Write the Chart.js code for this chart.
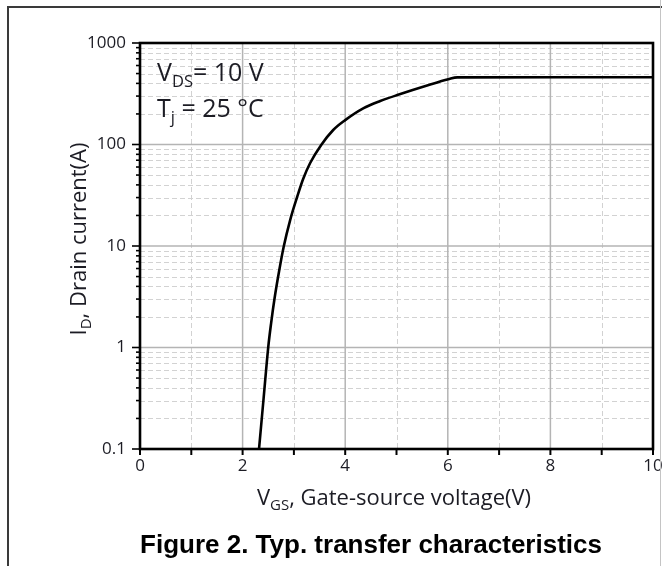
<!DOCTYPE html>
<html>
<head>
<meta charset="utf-8">
<title>Typ. transfer characteristics</title>
<script src="https://cdn.jsdelivr.net/npm/chart.js@4.4.0/dist/chart.umd.min.js"></script>
<style>
  html, body { margin: 0; padding: 0; background: #fff; }
  #wrap { position: relative; width: 662px; height: 566px; overflow: hidden; }
  #chart { position: absolute; left: 0; top: 0; }
  .rule { position: absolute; }
  #ruleTop { left: 7px; top: 6px; width: 655px; height: 2px; background: #3a3a3a; }
  #ruleLeft { left: 7px; top: 6px; width: 2px; height: 560px; background: #3a3a3a; }
  #ruleRight { left: 660px; top: 0; width: 1px; height: 566px; background: #c4c4c4; }
  #caption {
    position: absolute; left: 40px; width: 662px; top: 529px;
    text-align: center; color: #000;
    font: bold 26px "Liberation Sans", Arial, sans-serif;
    white-space: nowrap;
  }
</style>
</head>
<body>
<div id="wrap">
  <canvas id="chart" width="662" height="566"></canvas>
  <div class="rule" id="ruleTop"></div>
  <div class="rule" id="ruleLeft"></div>
  <div class="rule" id="ruleRight"></div>
  <div id="caption">Figure 2. Typ. transfer characteristics</div>
</div>
<script>
// Transfer curve: gate-source voltage (V) vs drain current (A), VDS = 10 V, Tj = 25 °C
const vgs = [2.32, 2.41, 2.50, 2.556, 2.624, 2.712, 2.80, 2.927, 3.063, 3.18, 3.317, 3.532, 3.766, 4.00, 4.351, 4.683, 5.015, 5.659, 6.01, 6.185, 10.0];
const idA = [0.1, 0.318, 1.01, 1.74, 3.07, 5.67, 9.77, 18.0, 30.4, 45.7, 65.7, 98.9, 139, 174, 227, 268, 307, 390, 439, 459, 460];

// Axis ticks and grid positions
const xTickValues = [0, 1, 2, 3, 4, 5, 6, 7, 8, 9, 10];
const xLabelValues = [0, 2, 4, 6, 8, 10];
const xMajorGrid = [2, 4, 6, 8];
const xMinorGrid = [1, 3, 5, 7, 9];
const yDecades = [0.1, 1, 10, 100, 1000];
const yMinorSteps = [2, 3, 4, 5, 6, 7, 8, 9];

const FONT = '"Open Sans", "Noto Sans", sans-serif';
const TEXT_COLOR = '#1c1c24';

// Draws a run of text pieces, some of them lowered as subscripts
function drawRich(ctx, parts, x, y) {
  let cx = x;
  for (const p of parts) {
    ctx.font = p.size + 'px ' + FONT;
    ctx.fillText(p.t, cx, y + (p.dy || 0));
    cx += ctx.measureText(p.t).width;
  }
}
function richWidth(ctx, parts) {
  let w = 0;
  for (const p of parts) {
    ctx.font = p.size + 'px ' + FONT;
    w += ctx.measureText(p.t).width;
  }
  return w;
}

const axisChrome = {
  id: 'axisChrome',
  beforeDatasetsDraw(chart) {
    const { ctx, chartArea: a, scales: { x, y } } = chart;
    ctx.save();
    ctx.beginPath();
    ctx.rect(a.left, a.top, a.right - a.left, a.bottom - a.top);
    ctx.clip();

    // minor dashed grid
    ctx.strokeStyle = '#d2d2d2';
    ctx.lineWidth = 1;
    ctx.setLineDash([5, 3]);
    for (const v of xMinorGrid) {
      const px = Math.round(x.getPixelForValue(v)) + 0.5;
      ctx.beginPath(); ctx.moveTo(px, a.top); ctx.lineTo(px, a.bottom); ctx.stroke();
    }
    for (const d of yDecades.slice(0, -1)) {
      for (const k of yMinorSteps) {
        const py = Math.round(y.getPixelForValue(d * k)) + 0.5;
        ctx.beginPath(); ctx.moveTo(a.left, py); ctx.lineTo(a.right, py); ctx.stroke();
      }
    }

    // major solid grid
    ctx.setLineDash([]);
    ctx.strokeStyle = '#b4b4b4';
    ctx.lineWidth = 1.5;
    for (const v of xMajorGrid) {
      const px = x.getPixelForValue(v);
      ctx.beginPath(); ctx.moveTo(px, a.top); ctx.lineTo(px, a.bottom); ctx.stroke();
    }
    for (const d of yDecades.slice(1, -1)) {
      const py = y.getPixelForValue(d);
      ctx.beginPath(); ctx.moveTo(a.left, py); ctx.lineTo(a.right, py); ctx.stroke();
    }
    ctx.restore();
  },
  afterDatasetsDraw(chart) {
    const { ctx, chartArea: a, scales: { x, y } } = chart;
    ctx.save();
    ctx.strokeStyle = '#000';

    // tick marks below the x axis
    ctx.lineWidth = 2;
    for (const v of xTickValues) {
      const px = x.getPixelForValue(v);
      ctx.beginPath(); ctx.moveTo(px, a.bottom); ctx.lineTo(px, a.bottom + 6); ctx.stroke();
    }
    // tick marks left of the y axis
    ctx.lineWidth = 1.6;
    for (const d of yDecades) {
      const py = y.getPixelForValue(d);
      ctx.beginPath(); ctx.moveTo(a.left - 8, py); ctx.lineTo(a.left, py); ctx.stroke();
      if (d < 1000) {
        for (const k of yMinorSteps) {
          const pm = y.getPixelForValue(d * k);
          ctx.beginPath(); ctx.moveTo(a.left - 4, pm); ctx.lineTo(a.left, pm); ctx.stroke();
        }
      }
    }

    // frame of the plot area
    ctx.lineWidth = 2.6;
    ctx.strokeRect(a.left, a.top, a.right - a.left, a.bottom - a.top);
    ctx.restore();
  },
  afterDraw(chart) {
    const { ctx, chartArea: a } = chart;
    ctx.save();
    ctx.fillStyle = TEXT_COLOR;
    ctx.textBaseline = 'alphabetic';
    ctx.textAlign = 'left';

    // condition notes in the upper-left corner
    drawRich(ctx, [
      { t: 'V', size: 25 }, { t: 'DS', size: 16.5, dy: 6 }, { t: '= 10 V', size: 25 }
    ], a.left + 17, 81);
    drawRich(ctx, [
      { t: 'T', size: 25 }, { t: 'j', size: 16.5, dy: 6 }, { t: ' = 25 \u00B0C', size: 25 }
    ], a.left + 17, 117);

    // x axis title
    const xParts = [
      { t: 'V', size: 22 }, { t: 'GS', size: 15, dy: 5 }, { t: ', Gate-source voltage(V)', size: 22 }
    ];
    const xw = richWidth(ctx, xParts);
    drawRich(ctx, xParts, 394 - xw / 2, 505);

    // y axis title, rotated
    const yParts = [
      { t: 'I', size: 22 }, { t: 'D', size: 15, dy: 5 }, { t: ', Drain current(A)', size: 22 }
    ];
    const yw = richWidth(ctx, yParts);
    ctx.translate(86, 239);
    ctx.rotate(-Math.PI / 2);
    drawRich(ctx, yParts, -yw / 2, 0);
    ctx.restore();
  }
};

const points = vgs.map((v, i) => ({ x: v, y: idA[i] }));

new Chart(document.getElementById('chart'), {
  type: 'line',
  data: {
    datasets: [{
      data: points,
      borderColor: '#000',
      borderWidth: 2.6,
      pointRadius: 0,
      fill: false,
      cubicInterpolationMode: 'monotone'
    }]
  },
  options: {
    responsive: false,
    animation: false,
    devicePixelRatio: 1,
    layout: { padding: { left: 10, top: 43, right: 9, bottom: 0 } },
    plugins: { legend: { display: false }, tooltip: { enabled: false }, title: { display: false } },
    scales: {
      x: {
        type: 'linear',
        min: 0,
        max: 10,
        grid: { display: false, drawTicks: false },
        border: { display: false },
        afterBuildTicks: s => { s.ticks = xLabelValues.map(v => ({ value: v })); },
        ticks: {
          font: { family: FONT, size: 17 },
          color: TEXT_COLOR,
          padding: 7,
          maxRotation: 0,
          autoSkip: false,
          callback: v => String(v)
        },
        afterFit: s => { s.height = 117; s.paddingLeft = 0; s.paddingRight = 0; }
      },
      y: {
        type: 'logarithmic',
        min: 0.1,
        max: 1000,
        grid: { display: false, drawTicks: false },
        border: { display: false },
        afterBuildTicks: s => { s.ticks = yDecades.map(v => ({ value: v })); },
        ticks: {
          font: { family: FONT, size: 17 },
          color: TEXT_COLOR,
          padding: 14,
          autoSkip: false,
          callback: v => (v < 1 ? v.toFixed(1) : String(Math.round(v)))
        },
        afterFit: s => { s.width = 130; s.paddingTop = 0; s.paddingBottom = 0; }
      }
    }
  },
  plugins: [axisChrome]
});
</script>
</body>
</html>
